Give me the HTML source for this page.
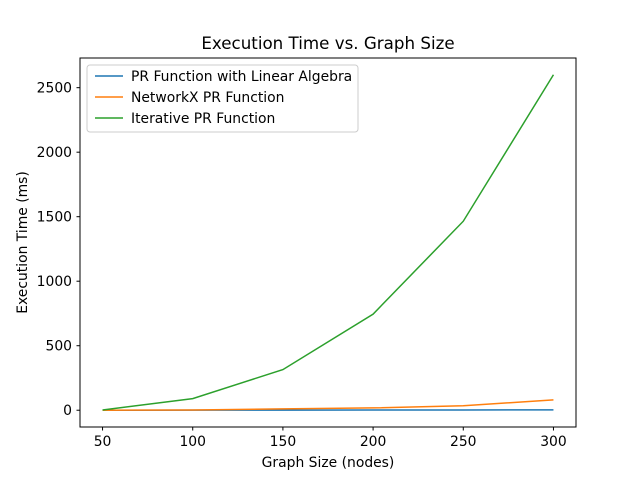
<!DOCTYPE html>
<html><head><meta charset="utf-8"><style>
body{margin:0;background:#fff;}
svg text{font-family:"DejaVu Sans","Liberation Sans",sans-serif;}
</style></head><body>
<svg id="chart" width="640" height="480" xmlns="http://www.w3.org/2000/svg">
<rect width="640" height="480" fill="#fff"/>
<text x="328" y="49" font-size="16.7" text-anchor="middle" fill="#000">Execution Time vs. Graph Size</text>
<g id="ticks"></g>
<g id="lines"></g>
<rect x="80" y="58" width="496" height="369" fill="none" stroke="#000" stroke-width="1"/>
<text x="328" y="467" font-size="13.9" text-anchor="middle">Graph Size (nodes)</text>
<text transform="translate(27,242.5) rotate(-90)" font-size="13.9" text-anchor="middle">Execution Time (ms)</text>
<g>
<rect x="87" y="65" width="271" height="67" rx="3" fill="#fff" fill-opacity="0.8" stroke="#ccc"/>
<line x1="95" y1="76" x2="123" y2="76" stroke="#1f77b4" stroke-width="1.5"/>
<text x="131" y="81" font-size="13.9">PR Function with Linear Algebra</text>
<line x1="95" y1="97" x2="123" y2="97" stroke="#ff7f0e" stroke-width="1.5"/>
<text x="131" y="102" font-size="13.9">NetworkX PR Function</text>
<line x1="95" y1="118" x2="123" y2="118" stroke="#2ca02c" stroke-width="1.5"/>
<text x="131" y="123" font-size="13.9">Iterative PR Function</text>
</g>
</svg>
<script>
const sizes = [50, 100, 150, 200, 250, 300];
const linearAlgebra = [0, 0.5, 1, 1.5, 2, 3];
const networkx = [0, 2, 10, 18, 35, 80];
const iterative = [2, 90, 315, 745, 1465, 2600];
const xTicks = [50, 100, 150, 200, 250, 300];
const yTicks = [0, 500, 1000, 1500, 2000, 2500];

const NS = "http://www.w3.org/2000/svg";
function xs(v){ return 80 + (v - 37.5) / 275 * 496; }
function ys(v){ return 427 - (v + 130) / 2860 * 369; }
const tg = document.getElementById('ticks');
xTicks.forEach(t => {
  const l = document.createElementNS(NS,'line');
  
  
  l.setAttribute('x1',xs(t)); l.setAttribute('x2',xs(t));
  l.setAttribute('y1',427); l.setAttribute('y2',430.5);
  l.setAttribute('stroke','#000'); tg.appendChild(l);
  const tx = document.createElementNS(NS,'text');
  
  
  tx.setAttribute('x',xs(t)); tx.setAttribute('y',446);
  tx.setAttribute('font-size','13.9'); tx.setAttribute('text-anchor','middle');
  tx.textContent = t; tg.appendChild(tx);
});
yTicks.forEach(t => {
  const l = document.createElementNS(NS,'line');
  
  
  l.setAttribute('x1',76.5); l.setAttribute('x2',80);
  l.setAttribute('y1',ys(t)); l.setAttribute('y2',ys(t));
  l.setAttribute('stroke','#000'); tg.appendChild(l);
  const tx = document.createElementNS(NS,'text');
  
  
  tx.setAttribute('x',72); tx.setAttribute('y',ys(t)+5);
  tx.setAttribute('font-size','13.9'); tx.setAttribute('text-anchor','end');
  tx.textContent = t; tg.appendChild(tx);
});
const lg = document.getElementById('lines');
function series(vals, color, name){
  const p = document.createElementNS(NS,'polyline');
  
  
  p.setAttribute('points', vals.map((v,i)=>xs(sizes[i])+','+ys(v)).join(' '));
  p.setAttribute('fill','none'); p.setAttribute('stroke',color);
  p.setAttribute('stroke-width','1.5');
  lg.appendChild(p);
}
series(linearAlgebra,'#1f77b4','line-linear-algebra');
series(networkx,'#ff7f0e','line-networkx');
series(iterative,'#2ca02c','line-iterative');
</script>
</body></html>
